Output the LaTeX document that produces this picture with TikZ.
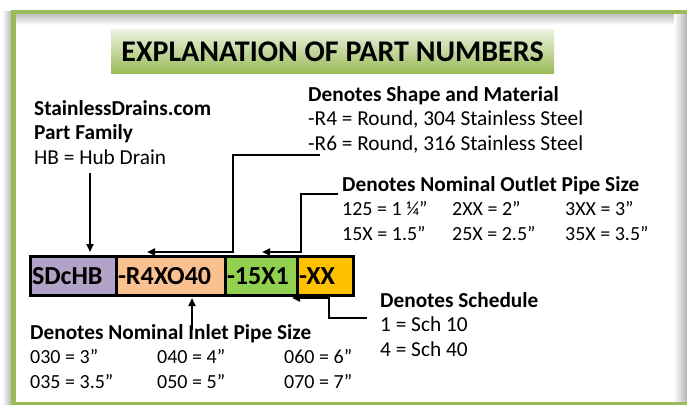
\documentclass[tikz,border=0pt]{standalone}
\usepackage{fontspec}
\setmainfont{Carlito}
\usepackage{array}
\usepackage{tikz}
\usetikzlibrary{arrows.meta,positioning,calc}
\definecolor{olivegrn}{HTML}{9BBB59}
\definecolor{olivelt}{HTML}{EBF1DE}
\definecolor{famcol}{HTML}{B3A2C7}
\definecolor{shpcol}{HTML}{FAC090}
\definecolor{outcol}{HTML}{92D050}
\definecolor{schcol}{HTML}{FFC000}
\newcommand{\rowfont}{\fontsize{20}{24.5}\selectfont}
\tikzset{
  titlebox/.style={minimum width=443pt, minimum height=43pt, inner sep=0pt,
                   top color=olivelt, bottom color=olivegrn,
                   font=\fontsize{30}{34}\selectfont\bfseries},
  partbox/.style={draw=black, line width=3pt, minimum height=39pt,
                  outer sep=0pt, inner xsep=2pt, align=left,
                  text height=17pt, text depth=0pt,
                  font=\fontsize{26}{30}\selectfont\bfseries},
  txtblk/.style={anchor=base west, inner sep=0pt,
                 font=\fontsize{21.3}{24.5}\selectfont},
  callarr/.style={-{Triangle[length=8pt,width=7pt]}, line width=2pt}
}

\begin{document}
\begin{tikzpicture}[x=1pt,y=-1pt]
    \useasboundingbox (0,0) rectangle (687,404);
    % frame
    \shade[left color=white, right color=gray!55] (2,12) rectangle (11,404);
    \draw[olivegrn, line width=5pt, fill=white] (13.5,12.5) rectangle (692,404.5);
    \shade[top color=gray!45, bottom color=white] (16,15) rectangle (674,25);
    \shade[left color=white, right color=gray!60] (674,15) rectangle (687,401.5);

    \node[titlebox] (title) at (332.5,51.5) {EXPLANATION OF PART NUMBERS};

    \node[partbox, fill=famcol, text width=82pt] (fam) at (73,275.5) {SDcHB};
    \node[partbox, fill=shpcol, text width=105pt, right=0pt of fam] (shp) {-R4XO40};
    \node[partbox, fill=outcol, text width=68pt, right=0pt of shp] (out) {-15X1};
    \node[partbox, fill=schcol, text width=52pt, right=0pt of out] (sch) {-XX};

    \node[txtblk] (famtxt) at (34,115) {\begin{tabular}[t]{@{}l@{}}
      \bfseries StainlessDrains.com\\ \bfseries Part Family\\ HB = Hub Drain
    \end{tabular}};
    \node[txtblk] (shptxt) at (308,101) {\begin{tabular}[t]{@{}l@{}}
      \bfseries Denotes Shape and Material\\
      -R4 = Round, 304 Stainless Steel\\ -R6 = Round, 316 Stainless Steel
    \end{tabular}};
    \node[txtblk] (outtxt) at (342,191) {\begin{tabular}[t]{@{}>{\rowfont}p{98pt}>{\rowfont}p{101pt}>{\rowfont}l@{}}
      \multicolumn{3}{@{}l@{}}{\bfseries Denotes Nominal Outlet Pipe Size}\\
      125 = 1 ¼” & 2XX = 2” & 3XX = 3”\\
      15X = 1.5” & 25X = 2.5” & 35X = 3.5”
    \end{tabular}};
    \node[txtblk] (schtxt) at (380,307) {\begin{tabular}[t]{@{}l@{}}
      \bfseries Denotes Schedule\\ 1 = Sch 10\\ 4 = Sch 40
    \end{tabular}};
    \node[txtblk] (inltxt) at (30,339) {\begin{tabular}[t]{@{}>{\rowfont}p{115pt}>{\rowfont}p{115pt}>{\rowfont}l@{}}
      \multicolumn{3}{@{}l@{}}{\bfseries Denotes Nominal Inlet Pipe Size}\\
      030 = 3” & 040 = 4” & 060 = 6”\\
      035 = 3.5” & 050 = 5” & 070 = 7”
    \end{tabular}};

    \coordinate (famtail) at (90,173);
    \coordinate (shptail) at (320,155);
    \coordinate (shptip) at (147,252);
    \coordinate (outtail) at (338,194);
    \coordinate (outtip) at (262,252);
    \coordinate (schtail) at (367,318);
    \coordinate (schtip) at (292,298);
    \coordinate (inltail) at (192,330);

    \draw[callarr, shorten >=4pt] (famtail) -- (famtail |- fam.north);
    \draw[callarr] (shptail) -- ++(-87,0) |- (shptip);
    \draw[callarr] (outtail) -- ++(-37,0) |- (outtip);
    \draw[callarr] (schtail) -- ++(-38,0) |- (schtip);
    \draw[callarr, shorten >=3pt] (inltail) -- (inltail |- shp.south);
  \end{tikzpicture}
\end{document}
